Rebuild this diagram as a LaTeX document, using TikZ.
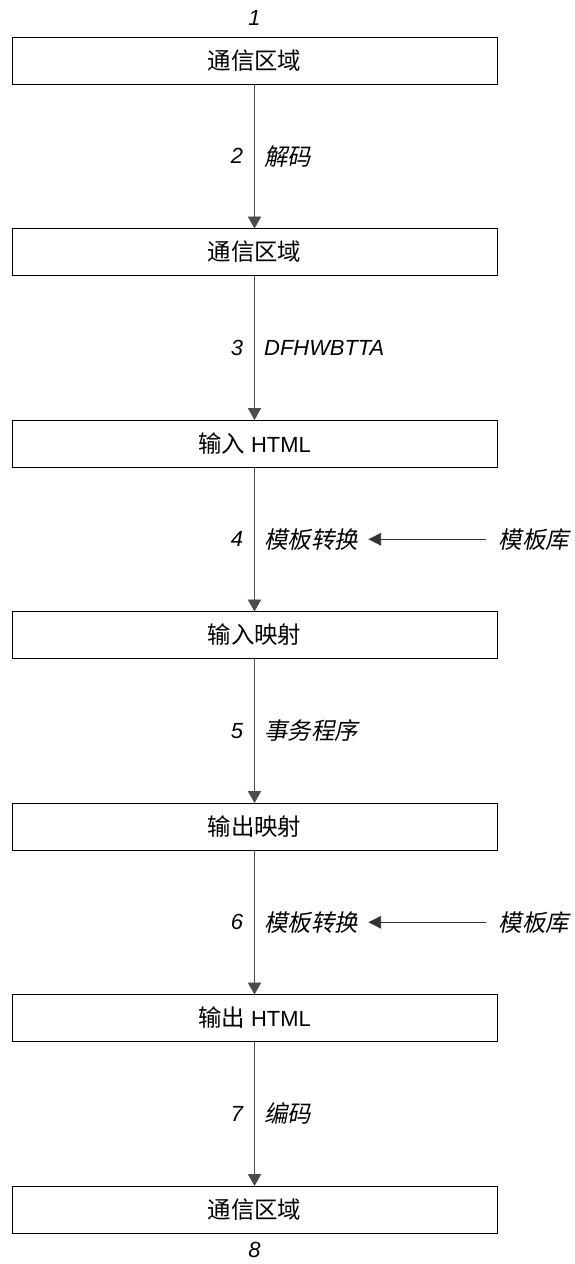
\documentclass[tikz,border=0pt]{standalone}
\usepackage{fontspec}
\setmainfont{Liberation Sans}
\newfontfamily\cjk[Scale=1.07]{Noto Sans CJK SC}
\newfontfamily\cjkit[Scale=1.07,FakeSlant=0.2]{Noto Sans CJK SC}
\usepackage{tikz}
\usetikzlibrary{arrows.meta}
\usetikzlibrary{positioning}

\newcommand{\diafont}{\fontsize{18.7}{22}\selectfont}

\tikzset{
  area/.style={draw, line width=0.8pt, minimum width=14.55cm, minimum height=1.41cm, inner sep=0pt},
  flow/.style={draw=black!70, line width=0.7pt, -{Triangle[width=0.4cm,length=0.36cm]}, shorten >=-0.4pt},
  feed/.style={draw=black!80, line width=0.7pt, -{Triangle[width=0.38cm,length=0.38cm]}},
  stepnum/.style={midway, left=0.33cm, inner sep=0pt, font=\diafont\itshape},
  steptext/.style={midway, right=0.28cm, inner sep=0pt, font=\diafont\cjkit},
  endnum/.style={inner sep=0pt, font=\diafont\itshape}
}

\begin{document}
\begin{tikzpicture}[font=\diafont]
            \useasboundingbox (0, 0) rectangle (17.22, -37.92);

            \node[area] (b1) at (7.635, -1.815)  {\cjk 通信区域};
            \node[area] (b2) at (7.635, -7.56)   {\cjk 通信区域};
            \node[area] (b3) at (7.635, -13.305) {{\cjk 输入} HTML};
            \node[area] (b4) at (7.635, -19.05)  {\cjk 输入映射};
            \node[area] (b5) at (7.635, -24.795) {\cjk 输出映射};
            \node[area] (b6) at (7.635, -30.54)  {{\cjk 输出} HTML};
            \node[area] (b7) at (7.635, -36.285) {\cjk 通信区域};

            \node[endnum] (n1) at (7.635, -0.54)  {1};
            \node[endnum] (n8) at (7.635, -37.5)  {8};

            \draw[flow] (b1) -- (b2) node[stepnum] {2} node[steptext] {解码};
            \draw[flow] (b2) -- (b3) node[stepnum] {3} node[steptext, font=\diafont\itshape] {DFHWBTTA};
            \draw[flow] (b3) -- (b4) node[stepnum] {4} node[steptext] (t4) {模板转换};
            \draw[flow] (b4) -- (b5) node[stepnum] {5} node[steptext] {事务程序};
            \draw[flow] (b5) -- (b6) node[stepnum] {6} node[steptext] (t6) {模板转换};
            \draw[flow] (b6) -- (b7) node[stepnum] {7} node[steptext] {编码};

            \node[right=4.2cm of t4, inner sep=0pt, font=\diafont\cjkit] (lib4) {模板库};
            \node[right=4.2cm of t6, inner sep=0pt, font=\diafont\cjkit] (lib6) {模板库};

            \draw[feed, shorten <=0.38cm, shorten >=0.3cm] (lib4) -- (t4);
            \draw[feed, shorten <=0.38cm, shorten >=0.3cm] (lib6) -- (t6);
\end{tikzpicture}
\end{document}
